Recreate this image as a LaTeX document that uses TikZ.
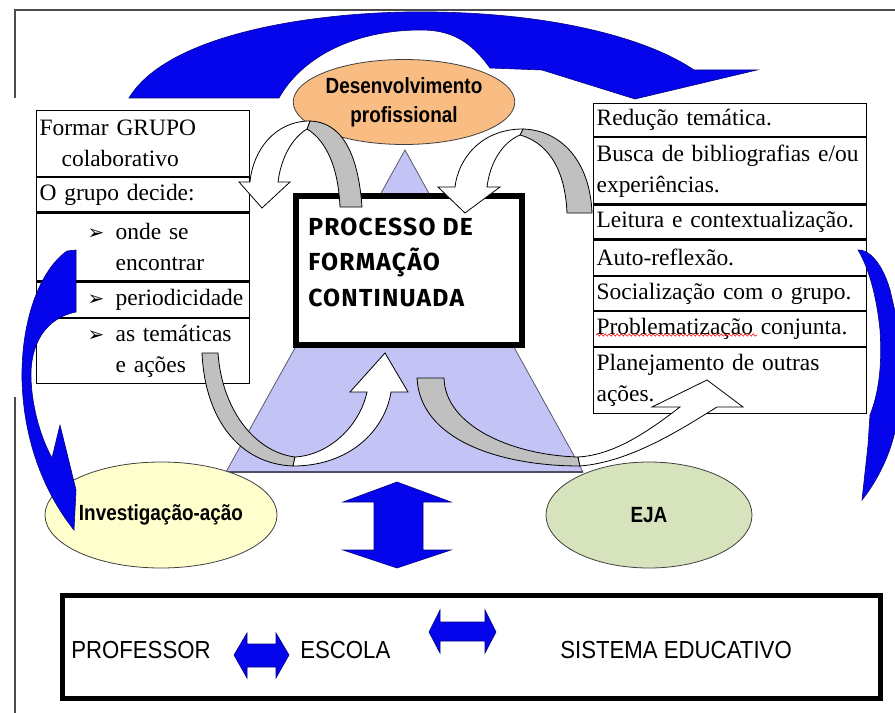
\documentclass[tikz,border=0pt]{standalone}
\usepackage{fontspec}
\setmainfont{Liberation Serif}
\usetikzlibrary{shapes.geometric,decorations.pathmorphing}

\newfontfamily\narrowsans[FakeStretch=0.86]{Liberation Sans}
\newfontfamily\procfont[LetterSpace=5]{Fira Sans}
\newfontfamily\plainsans[FakeStretch=0.9]{Liberation Sans}
\newfontfamily\dingfont{DejaVu Sans}

\newdimen\pxu \pxu=0.75pt
\newcommand\celltext{\fontsize{17.6}{23.25}\selectfont}
\newcommand\ovaltext{\narrowsans\bfseries\fontsize{16.5}{21.75}\selectfont}
\newcommand\bottomtext{\plainsans\fontsize{18.5}{22}\selectfont}
\newcommand\bul{\makebox[28\pxu][l]{\dingfont\fontsize{15}{15}\selectfont ➢}}

\definecolor{arcblue}{RGB}{5,5,235}
\definecolor{tribg}{RGB}{195,195,245}
\definecolor{orangebg}{RGB}{249,188,130}
\definecolor{yellowbg}{RGB}{255,255,206}
\definecolor{greenbg}{RGB}{214,227,188}
\definecolor{sidegray}{RGB}{192,192,192}

\begin{document}
\begin{tikzpicture}[x=0.75pt,y=-0.75pt,
  cellbox/.style={draw,line width=1.2\pxu,fill=white,anchor=north west,inner xsep=3\pxu,inner ysep=0pt,align=left,font=\celltext,minimum height=#1},
  oval/.style={ellipse,draw=black!75,line width=0.8\pxu,inner sep=0pt,font=\ovaltext,align=center},
  bluearc/.style={fill=arcblue,draw=arcblue!55!black,line width=0.6\pxu},
  sideface/.style={fill=sidegray,draw=black,line width=0.8\pxu},
  frontface/.style={fill=white,draw=black,line width=0.8\pxu}]
\useasboundingbox (0,0) rectangle (895,713);
\draw[black!70,line width=2\pxu] (15,98) -- (15,10) -- (895,10);
\draw[black!70,line width=2\pxu] (15,397) -- (15,713);

\filldraw[bluearc] (129,98) .. controls (170,30) and (330,10) .. (435,12)
  .. controls (560,14) and (650,40) .. (694,70) -- (757,70) -- (635,99) -- (542,70) -- (490,68)
  .. controls (470,40) and (450,30) .. (421,30) .. controls (350,30) and (300,60) .. (279,98) -- cycle;

\filldraw[fill=tribg,draw=tribg!45!black,line width=0.8\pxu] (405,150) -- (583,472) -- (226,472) -- cycle;
\draw[tribg!40!black,line width=2.5\pxu] (226,472) -- (583,472);

\node[oval,fill=orangebg,minimum width=205\pxu,minimum height=85\pxu] (desenv) at (404,102) {Desenvolvimento\\profissional};

\node[draw,line width=6\pxu,fill=white,anchor=north west,minimum width=226\pxu,minimum height=149\pxu] (proc) at (293,193) {};
\node[anchor=west,align=left,inner sep=0pt,font=\procfont\bfseries\fontsize{18.5}{26.6}\selectfont] (proctext) at (308,262) {PROCESSO DE\\FORMAÇÃO\\CONTINUADA};

\node[cellbox=66\pxu,text width=207\pxu] (l1) at (36,110) {Formar GRUPO\\\hspace*{22\pxu}colaborativo};
\node[cellbox=34\pxu,text width=207\pxu] (l2) at (l1.south west) {O grupo decide:};
\node[cellbox=68\pxu,text width=207\pxu] (l3) at (l2.south west) {\hspace*{48\pxu}\bul onde se\\\hspace*{76\pxu}encontrar};
\node[cellbox=35\pxu,text width=207\pxu] (l4) at (l3.south west) {\hspace*{48\pxu}\bul periodicidade};
\node[cellbox=65\pxu,text width=207\pxu] (l5) at (l4.south west) {\hspace*{48\pxu}\bul as temáticas\\\hspace*{76\pxu}e ações};

\node[cellbox=33\pxu,text width=267\pxu] (r1) at (593,103) {Redução temática.};
\node[cellbox=66\pxu,text width=267\pxu] (r2) at (r1.south west) {Busca de bibliografias e/ou\\experiências.};
\node[cellbox=34\pxu,text width=267\pxu] (r3) at (r2.south west) {Leitura e contextualização.};
\node[cellbox=35\pxu,text width=267\pxu] (r4) at (r3.south west) {Auto-reflexão.};
\node[cellbox=34\pxu,text width=267\pxu] (r5) at (r4.south west) {Socialização com o grupo.};
\node[cellbox=35\pxu,text width=267\pxu] (r6) at (r5.south west) {Problematização conjunta.};
\node[cellbox=66\pxu,text width=267\pxu] (r7) at (r6.south west) {Planejamento de outras\\ações.};
\draw[red,decorate,decoration={snake,amplitude=1.2\pxu,segment length=4\pxu}] (596,335) -- (757,335);

\filldraw[sideface] (362,207) .. controls (358,150) and (340,122) .. (310,121) -- (307,129)
  .. controls (322,138) and (338,160) .. (340,207) -- cycle;
\filldraw[frontface] (310,121) .. controls (275,121) and (253,150) .. (250,182) -- (239,182) -- (262,208)
  -- (290,182) -- (278,182) .. controls (281,158) and (292,138) .. (307,129) -- cycle;

\filldraw[sideface] (592,213) .. controls (590,160) and (560,130) .. (523,129) -- (520,135)
  .. controls (545,142) and (565,165) .. (567,213) -- cycle;
\filldraw[frontface] (523,129) .. controls (480,129) and (458,160) .. (455,187) -- (438,187) -- (465,213)
  -- (500,187) -- (487,187) .. controls (490,162) and (503,142) .. (520,135) -- cycle;

\filldraw[sideface] (202,353) .. controls (205,420) and (240,464) .. (293,466) -- (295,457)
  .. controls (255,452) and (222,410) .. (218,353) -- cycle;
\filldraw[frontface] (293,466) .. controls (350,466) and (385,430) .. (391,392) -- (408,392) -- (385,353)
  -- (350,392) -- (367,392) .. controls (360,425) and (330,455) .. (295,457) -- cycle;

\filldraw[sideface] (417,378) .. controls (420,440) and (500,466) .. (580,466) -- (578,457)
  .. controls (510,455) and (445,425) .. (444,378) -- cycle;
\filldraw[frontface] (580,466) .. controls (630,462) and (680,430) .. (717,407) -- (743,407) -- (707,380)
  -- (652,407) -- (680,407) .. controls (650,430) and (615,455) .. (578,457) -- cycle;

\node[oval,fill=yellowbg,minimum width=202\pxu,minimum height=106\pxu] (invest) at (161,515) {Investigação-ação};
\node[oval,fill=greenbg,minimum width=206\pxu,minimum height=106\pxu] (eja) at (649,515) {EJA};

\filldraw[bluearc] (67,251) -- (76,250) -- (76,312) .. controls (45,318) and (30,345) .. (31,378)
  .. controls (32,410) and (42,440) .. (52,458) -- (60,425) -- (76,490) -- (74,530)
  .. controls (50,500) and (24,450) .. (22,380) .. controls (21,320) and (40,270) .. (67,251) -- cycle;
\filldraw[bluearc] (858,250) .. controls (868,249) and (882,262) .. (890,290) -- (897,320) -- (897,420)
  .. controls (893,450) and (878,480) .. (862,500) -- (868,445) -- (870,415)
  .. controls (880,390) and (882,360) .. (880,330) .. controls (877,300) and (870,270) .. (858,250) -- cycle;

\filldraw[bluearc] (397,482) -- (451,502) -- (423,502) -- (423,550) -- (451,550) -- (397,568)
  -- (343,550) -- (374,550) -- (374,502) -- (343,502) -- cycle;

\node[draw,line width=5\pxu,fill=white,anchor=north west,minimum width=818\pxu,minimum height=103\pxu] (base) at (59.5,592.5) {};
\node[anchor=west,inner sep=0pt,font=\bottomtext] (prof) at (71,650) {PROFESSOR};
\node[anchor=west,inner sep=0pt,font=\bottomtext] (escola) at (300,650) {ESCOLA};
\node[anchor=west,inner sep=0pt,font=\bottomtext] (sistema) at (560,650) {SISTEMA EDUCATIVO};
\filldraw[bluearc] (234,655) -- (247,633) -- (247,644) -- (276,644) -- (276,633) -- (289,655)
  -- (276,678) -- (276,667) -- (247,667) -- (247,678) -- cycle;
\filldraw[bluearc] (429,632) -- (440,610) -- (440,622) -- (485,622) -- (485,610) -- (496,632)
  -- (485,653) -- (485,641) -- (440,641) -- (440,653) -- cycle;
\end{tikzpicture}
\end{document}
